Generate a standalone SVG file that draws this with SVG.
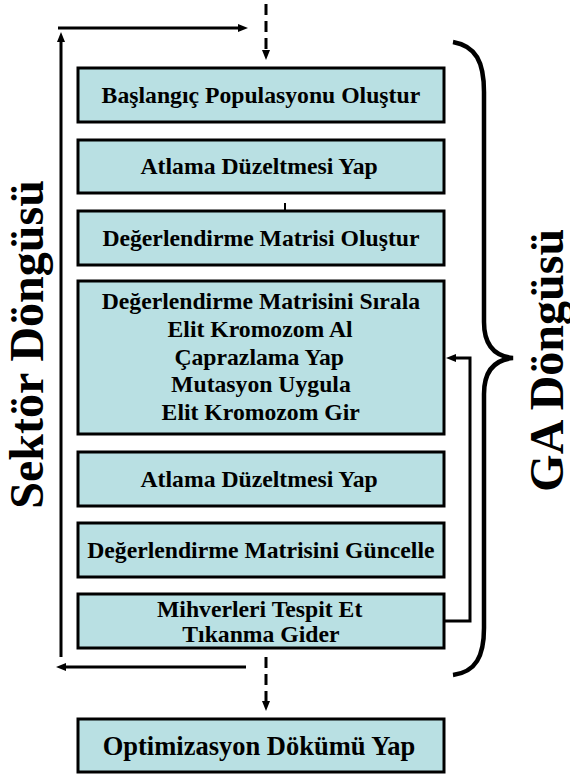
<svg xmlns="http://www.w3.org/2000/svg" width="570" height="776" viewBox="0 0 570 776">
<defs>
<marker id="ah" viewBox="0 0 10 8" markerWidth="10" markerHeight="8" refX="0" refY="4" orient="auto" markerUnits="userSpaceOnUse">
<path d="M0,0 L10,4 L0,8 z" fill="#000"/>
</marker>
</defs>
<rect width="570" height="776" fill="#fff"/>
<g id="connectors" fill="none" stroke="#000" stroke-width="3">
<path d="M58,28 H238" marker-end="url(#ah)"/>
<path d="M61,657 V42" marker-end="url(#ah)"/>
<path d="M246,667 H66" marker-end="url(#ah)"/>
<path d="M266,4 V50" stroke-dasharray="11 6" marker-end="url(#ah)"/>
<path d="M266,657 V701" stroke-dasharray="11 6" marker-end="url(#ah)"/>
<path d="M444,621 H470 V358 H456" marker-end="url(#ah)"/>
<path d="M285,203 V210" stroke-width="2"/>
<path stroke-width="4.5" d="M453,42 C476,46 484,62 484,92 V322 C484,342 492,356 513,358 C492,360 484,374 484,394 V628 C484,656 476,672 453,675"/>
</g>
<g fill="#B9E0E3" stroke="#000" stroke-width="3">
<rect id="r1" x="78" y="68" width="366" height="54"/>
<rect id="r2" x="78" y="140" width="366" height="53"/>
<rect id="r3" x="78" y="211" width="366" height="54"/>
<rect id="r4" x="78" y="281" width="366" height="153"/>
<rect id="r5" x="78" y="452" width="366" height="54"/>
<rect id="r6" x="78" y="523" width="366" height="54"/>
<rect id="r7" x="78" y="594" width="366" height="54"/>
<rect id="r8" x="78" y="719" width="366" height="53"/>
</g>
<text id="n1" x="101.6" y="103" style="font-family:'Times New Roman','Liberation Serif',serif;font-weight:700;font-size:23.7px">Başlangıç Populasyonu Oluştur</text>
<text id="n2" x="140.5" y="174" style="font-family:'Times New Roman','Liberation Serif',serif;font-weight:700;font-size:23.7px">Atlama Düzeltmesi Yap</text>
<text id="n3" x="102.4" y="246" style="font-family:'Times New Roman','Liberation Serif',serif;font-weight:700;font-size:23.7px">Değerlendirme Matrisi Oluştur</text>
<g id="n4">
<text x="101.7" y="309" style="font-family:'Times New Roman','Liberation Serif',serif;font-weight:700;font-size:23.7px">Değerlendirme Matrisini Sırala</text>
<text x="167.5" y="337" style="font-family:'Times New Roman','Liberation Serif',serif;font-weight:700;font-size:23.7px">Elit Kromozom Al</text>
<text x="174.4" y="365" style="font-family:'Times New Roman','Liberation Serif',serif;font-weight:700;font-size:23.7px">Çaprazlama Yap</text>
<text x="171.1" y="392" style="font-family:'Times New Roman','Liberation Serif',serif;font-weight:700;font-size:23.7px">Mutasyon Uygula</text>
<text x="161.6" y="420" style="font-family:'Times New Roman','Liberation Serif',serif;font-weight:700;font-size:23.7px">Elit Kromozom Gir</text>
</g>
<text id="n5" x="140.5" y="487" style="font-family:'Times New Roman','Liberation Serif',serif;font-weight:700;font-size:23.7px">Atlama Düzeltmesi Yap</text>
<text id="n6" x="87.2" y="558" style="font-family:'Times New Roman','Liberation Serif',serif;font-weight:700;font-size:23.7px">Değerlendirme Matrisini Güncelle</text>
<g id="n7">
<text x="157" y="617" style="font-family:'Times New Roman','Liberation Serif',serif;font-weight:700;font-size:23.7px">Mihverleri Tespit Et</text>
<text x="182.3" y="642" style="font-family:'Times New Roman','Liberation Serif',serif;font-weight:700;font-size:23.7px">Tıkanma Gider</text>
</g>
<text id="n8" x="102.7" y="755" style="font-family:'Times New Roman','Liberation Serif',serif;font-weight:700;font-size:26.5px">Optimizasyon Dökümü Yap</text>
<text id="l1" transform="translate(43,344) rotate(-90)" x="-164.7" y="0" style="font-family:'Times New Roman','Liberation Serif',serif;font-weight:700;font-size:48px">Sektör Döngüsü</text>
<text id="l2" transform="translate(563,359) rotate(-90)" x="-132.7" y="0" style="font-family:'Times New Roman','Liberation Serif',serif;font-weight:700;font-size:48px">GA Döngüsü</text>
</svg>
